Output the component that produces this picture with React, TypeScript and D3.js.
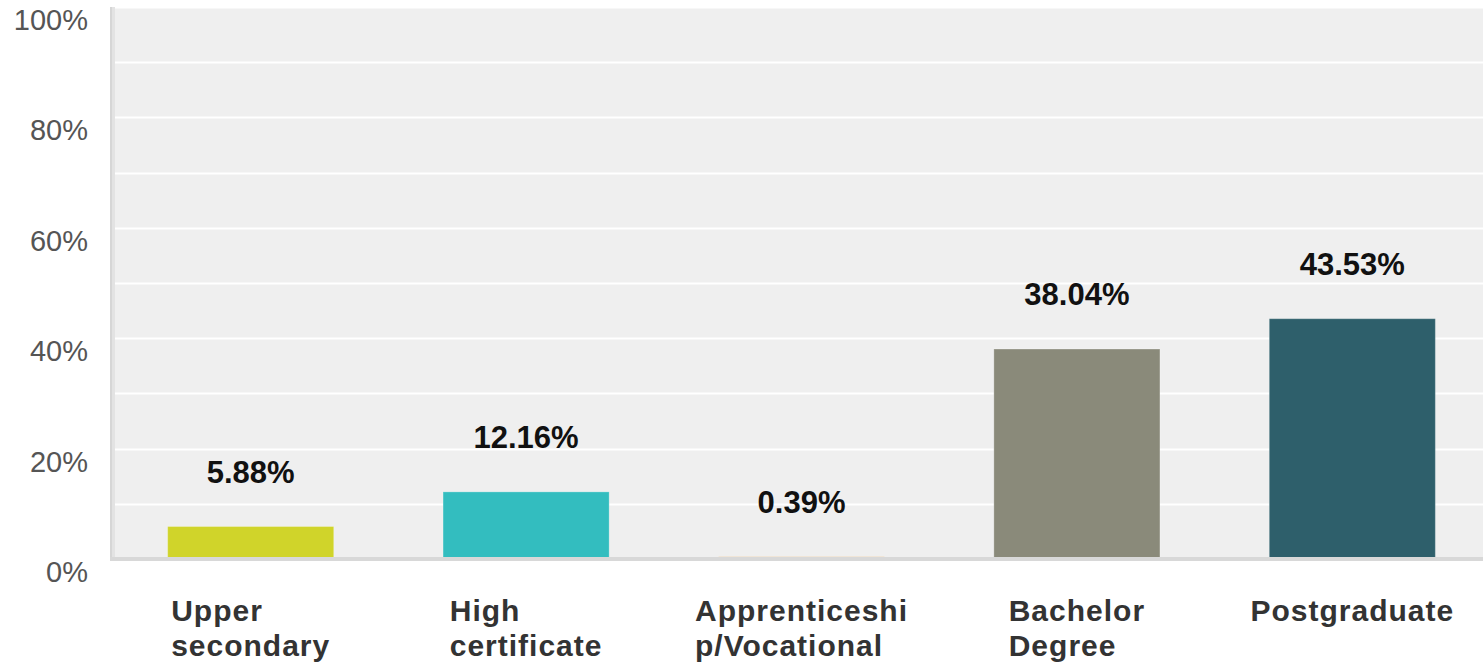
import React, { useEffect, useRef } from "react";
import * as d3 from "d3";

const categories = ["Upper secondary", "High certificate", "Apprenticeship/Vocational", "Bachelor Degree", "Postgraduate"];
const categoryLines = [["Upper", "secondary"], ["High", "certificate"], ["Apprenticeshi", "p/Vocational"], ["Bachelor", "Degree"], ["Postgraduate"]];
const values = [5.88, 12.16, 0.39, 38.04, 43.53];
const barColors = ["#d0d42a", "#33bdbf", "#e0922a", "#8a8a7a", "#2e5f6b"];
const yTicks = [0, 20, 40, 60, 80, 100];
const gridTicks = [10, 20, 30, 40, 50, 60, 70, 80, 90, 100];

export default function App() {
  const ref = useRef<SVGSVGElement>(null);
  useEffect(() => {
    const svg = d3.select(ref.current);
    svg.selectAll("*").remove();
    const W = 1483;
    const plotLeft = 113, plotRight = 1490;
    const font = "'Liberation Sans', Arial, sans-serif";
    const x = d3.scaleBand<string>().domain(categories).range([plotLeft, plotRight]).paddingInner(0.397).paddingOuter(0.1985);
    const y = d3.scaleLinear().domain([0, 100]).range([559, 7]);

    // plot background
    svg.append("rect").attr("x", 115).attr("y", y(100)).attr("width", W - 115).attr("height", y(0) - y(100)).attr("fill", "#efefef");
    // grid
    svg.selectAll("line.grid").data(gridTicks).enter().append("line")
      .attr("x1", 115).attr("x2", W).attr("y1", d => Math.round(y(d)) + 0.5).attr("y2", d => Math.round(y(d)) + 0.5)
      .attr("stroke", "#ffffff").attr("stroke-width", 2);
    // left border
    svg.append("rect").attr("x", 110).attr("y", y(100)).attr("width", 5).attr("height", y(0) - y(100) + 2).attr("fill", "#e3e3e3");
    svg.append("rect").attr("x", 110).attr("y", y(100)).attr("width", 2).attr("height", y(0) - y(100) + 2).attr("fill", "#d6d6d6");

    // bars
    svg.selectAll("rect.bar").data(values).enter().append("rect")
      .attr("x", (d, i) => x(categories[i])!).attr("width", x.bandwidth())
      .attr("y", d => y(d)).attr("height", d => y(0) - y(d))
      .attr("fill", (d, i) => barColors[i]).attr("stroke", "rgba(255,255,255,0.25)").attr("stroke-width", 1);

    // baseline
    svg.append("rect").attr("x", 110).attr("y", y(0) - 2).attr("width", W - 110).attr("height", 4).attr("fill", "#d8d8d8");

    // y tick labels
    svg.selectAll("text.ytick").data(yTicks).enter().append("text")
      .attr("x", 88).attr("y", d => y(d) + 23)
      .attr("text-anchor", "end").attr("font-family", font)
      .attr("font-size", 29).attr("fill", "#555555").text(d => d + "%");

    // value labels
    svg.selectAll("text.val").data(values).enter().append("text")
      .attr("x", (d, i) => x(categories[i])! + x.bandwidth() / 2)
      .attr("y", d => y(d) - 44)
      .attr("text-anchor", "middle").attr("font-family", font)
      .attr("font-weight", "bold").attr("font-size", 31).attr("fill", "#111111")
      .text(d => d.toFixed(2) + "%");

    // category labels
    categoryLines.forEach((lines, i) => {
      const cx = x(categories[i])! + x.bandwidth() / 2;
      const g = svg.append("g");
      const texts = lines.map((ln, j) => g.append("text")
        .attr("x", 0).attr("y", 621 + j * 35)
        .attr("font-family", font)
        .attr("font-weight", "bold").attr("font-size", 30).attr("letter-spacing", 1).attr("fill", "#333333")
        .text(ln));
      const maxW = d3.max(texts, t => (t.node() as SVGTextElement).getComputedTextLength()) || 0;
      g.attr("transform", `translate(${cx - maxW / 2},0)`);
    });
  }, []);
  return (
    <svg ref={ref} width={1483} height={665} style={{ position: "absolute", left: 0, top: 0, background: "#ffffff" }} />
  );
}
